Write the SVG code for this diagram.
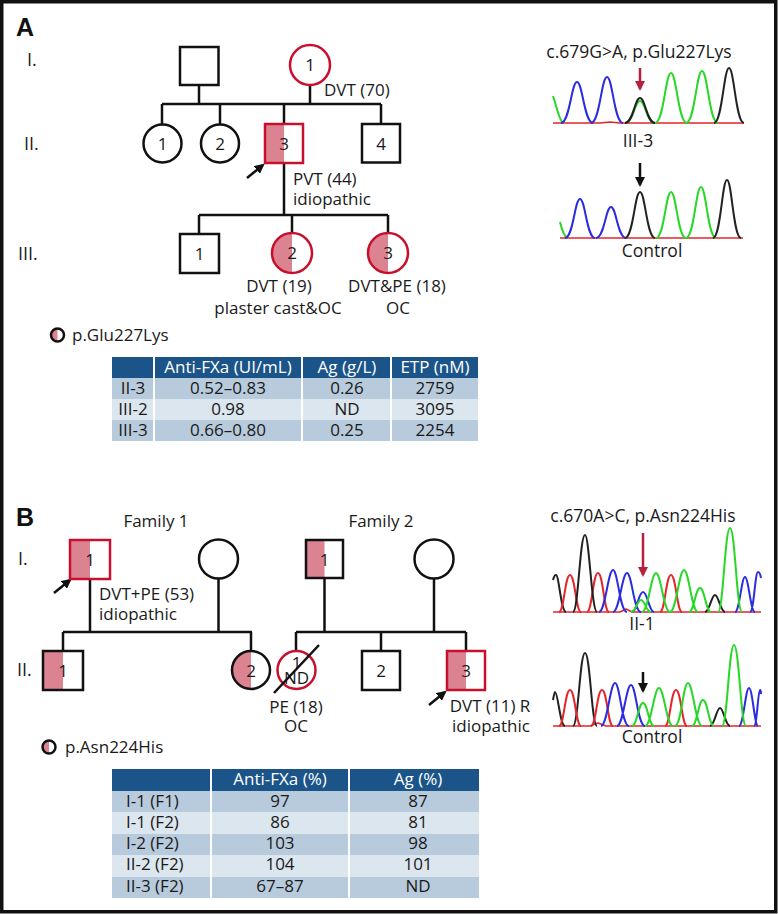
<svg xmlns="http://www.w3.org/2000/svg" width="778" height="914" viewBox="0 0 778 914">
<defs>
<style>
.t{font-family:"Open Sans","Liberation Sans",sans-serif;font-size:17px;fill:#1a1a1a}
.c{text-anchor:middle}
.big{font-size:17.5px}
.b{font-family:"Liberation Sans",Arial,sans-serif;font-weight:bold;font-size:25px;fill:#111}
.rn{font-size:18px}
.w{fill:#fff}
.ln{stroke:#111;stroke-width:2.5;fill:none}
.sym{stroke:#111;stroke-width:2.5;fill:none}
.red{stroke:#c8102e}
.pk{fill:#db8391;stroke:none}
.hdr{fill:#1b5488}
.dk{fill:#b8cbdc}
.lt{fill:#dce6ef}
.sep{stroke:#fff;stroke-width:2}
.tr{fill:none;stroke-width:2;stroke-linejoin:round}
.bl{stroke:#2b2be0}
.gr{stroke:#27d827}
.bk{stroke:#222}
.rd{stroke:#e3262b;stroke-width:1.6}
</style>
<marker id="ah" viewBox="0 0 10 10" refX="8" refY="5" markerWidth="4" markerHeight="4" orient="auto"><path d="M0,0 L10,5 L0,10 z" fill="#111"/></marker>
<marker id="ahr" viewBox="0 0 10 10" refX="8" refY="5" markerWidth="4" markerHeight="4" orient="auto"><path d="M0,0 L10,5 L0,10 z" fill="#b5203c"/></marker>
</defs>
<rect x="1.75" y="1.75" width="774" height="910" fill="#fff" stroke="#111" stroke-width="3.5"/>

<!-- Panel A labels -->
<text class="b" x="16" y="36">A</text>
<text class="t rn" x="27" y="66">I.</text>
<text class="t rn" x="24" y="150">II.</text>
<text class="t rn" x="18" y="260">III.</text>

<g id="connectors">
<path class="ln" d="M199,85 V104 M310,85 V104 M162,104 H381 M162,104 V124 M220,104 V124 M284,104 V124 M381,104 V124 M284,163 V215 M199,215 H388 M199,215 V234 M292,215 V233 M388,215 V233"/>
<line class="ln" x1="247" y1="178" x2="263" y2="165" marker-end="url(#ah)"/>
<path class="ln" d="M90,579 V632 M218.5,578.5 V632 M63,632 H252 M63,632 V651 M251,632 V651 M324.5,578 V632 M434,578.5 V632 M296,632 H466 M296,632 V651 M381,632 V651 M466,632 V651"/>
<line class="ln" x1="54" y1="593" x2="70" y2="580" marker-end="url(#ah)"/>
<line class="ln" x1="429" y1="705" x2="445" y2="692" marker-end="url(#ah)"/>
</g>

<!-- Panel A pedigree -->
<g id="A-I-2"><rect class="sym" x="180" y="47" width="38.5" height="38"/></g>
<g id="A-I-1"><circle class="sym red" cx="310" cy="65" r="20"/><text class="t c" x="310" y="71">1</text>
<text class="t" x="324" y="96">DVT (70)</text></g>
<g id="A-II-1"><circle class="sym" cx="162.5" cy="143.5" r="19"/><text class="t c" x="162.5" y="149.5">1</text></g>
<g id="A-II-2"><circle class="sym" cx="220" cy="143.5" r="19"/><text class="t c" x="220" y="149.5">2</text></g>
<g id="A-II-3"><rect class="pk" x="265" y="124" width="19" height="39"/><rect class="sym red" x="265" y="124" width="38" height="39"/><text class="t c" x="284" y="149.5">3</text>
<text class="t" x="293" y="185">PVT (44)</text><text class="t" x="293" y="205">idiopathic</text></g>
<g id="A-II-4"><rect class="sym" x="362" y="124" width="38" height="38.5"/><text class="t c" x="381" y="149.5">4</text></g>
<g id="A-III-1"><rect class="sym" x="180" y="234" width="39" height="39"/><text class="t c" x="199.5" y="259.5">1</text></g>
<g id="A-III-2"><path class="pk" d="M292,233 A20,20 0 0 0 292,273 Z"/><circle class="sym red" cx="292" cy="253" r="20"/><text class="t c" x="292" y="259">2</text>
<text class="t c" x="279" y="292">DVT (19)</text><text class="t c" x="278" y="314">plaster cast&amp;OC</text></g>
<g id="A-III-3"><path class="pk" d="M388,233 A20,20 0 0 0 388,273 Z"/><circle class="sym red" cx="388" cy="253" r="20"/><text class="t c" x="388" y="259">3</text>
<text class="t c" x="397" y="292">DVT&amp;PE (18)</text><text class="t c" x="398" y="314">OC</text></g>
<g id="A-legend"><path class="pk" d="M57.5,328.5 A6.5,6.5 0 0 0 57.5,341.5 Z"/><circle class="sym" cx="57.5" cy="335" r="6.5" stroke-width="2"/><text class="t" x="72" y="341">p.Glu227Lys</text></g>

<!-- Table A -->
<g id="A-table">
<rect class="hdr" x="112" y="357" width="366" height="21"/>
<rect class="dk" x="112" y="378" width="366" height="21"/>
<rect class="lt" x="112" y="399" width="366" height="21"/>
<rect class="dk" x="112" y="420" width="366" height="21"/>
<path class="sep" d="M154,357 V441 M302,357 V441 M391,357 V441"/>
<text class="t c w" x="228" y="373">Anti-FXa (UI/mL)</text>
<text class="t c w" x="347" y="373">Ag (g/L)</text>
<text class="t c w" x="435" y="373">ETP (nM)</text>
<text class="t c" x="133" y="394">II-3</text><text class="t c" x="228" y="394">0.52–0.83</text><text class="t c" x="347" y="394">0.26</text><text class="t c" x="435" y="394">2759</text>
<text class="t c" x="133" y="415">III-2</text><text class="t c" x="228" y="415">0.98</text><text class="t c" x="347" y="415">ND</text><text class="t c" x="435" y="415">3095</text>
<text class="t c" x="133" y="436">III-3</text><text class="t c" x="228" y="436">0.66–0.80</text><text class="t c" x="347" y="436">0.25</text><text class="t c" x="435" y="436">2254</text>
</g>

<!-- Chromatogram A -->
<g id="A-chrom">
<text class="t c big" x="639" y="58">c.679G&gt;A, p.Glu227Lys</text>
<line x1="640" y1="68" x2="640" y2="89" stroke="#b5203c" stroke-width="2.5" marker-end="url(#ahr)"/>
<path class="tr rd" d="M553,123 L600,123 L610,122 L620,123 L743,123"/>
<path class="tr gr" d="M553,96 C556,104 559,120 563,123"/>
<path class="tr bl" d="M561,123 C569.8,123 571.4,82 577,82 C582.6,82 584.2,123 593,123 M591,123 C599.8,123 601.4,77 607,77 C612.6,77 614.2,123 623,123"/>
<path class="tr gr" d="M625,123 C633.25,123 634.75,101 640,101 C645.25,101 646.75,123 655,123"/>
<path class="tr bk" d="M625,123 C633.25,123 634.75,98 640,98 C645.25,98 646.75,123 655,123"/>
<path class="tr gr" d="M655,123 C663.8,123 665.4,73 671,73 C676.6,73 678.2,123 687,123 M686,123 C694.8,123 696.4,71 702,71 C707.6,71 709.2,123 718,123"/>
<path class="tr bk" d="M714,123 C722.25,123 723.75,68 729,68 C734.25,68 735.75,123 744,123"/>
<text class="t c big" x="638" y="147">III-3</text>
<line x1="640" y1="163" x2="640" y2="185" stroke="#111" stroke-width="2.5" marker-end="url(#ah)"/>
<path class="tr rd" d="M560,238 L743,238"/>
<path class="tr gr" d="M560,222 C562,230 564,236 567,238"/>
<path class="tr bl" d="M565,238 C573.25,238 574.75,199 580,199 C585.25,199 586.75,238 595,238 M596,238 C604.25,238 605.75,207 611,207 C616.25,207 617.75,238 626,238"/>
<path class="tr bk" d="M625,238 C633.25,238 634.75,192 640,192 C645.25,192 646.75,238 655,238"/>
<path class="tr gr" d="M656,238 C664.25,238 665.75,192 671,192 C676.25,192 677.75,238 686,238 M686,238 C694.25,238 695.75,187 701,187 C706.25,187 707.75,238 716,238"/>
<path class="tr bk" d="M713,238 C720.7,238 722.1,180 727,180 C731.9,180 733.3,238 741,238"/>
<text class="t c big" x="652" y="257">Control</text>
</g>

<!-- Panel B labels -->
<text class="b" x="16" y="526">B</text>
<text class="t c" x="156" y="527">Family 1</text>
<text class="t c" x="381" y="527">Family 2</text>
<text class="t rn" x="18" y="565">I.</text>
<text class="t rn" x="17" y="676">II.</text>

<g id="F1-I-1"><rect class="pk" x="70" y="540" width="20" height="39"/><rect class="sym red" x="70" y="540" width="40" height="39"/><text class="t c" x="90" y="566">1</text>
<text class="t" x="99" y="600">DVT+PE (53)</text><text class="t" x="99" y="620">idiopathic</text></g>
<g id="F1-I-2"><circle class="sym" cx="218.5" cy="559" r="19.5"/></g>
<g id="F1-II-1"><rect class="pk" x="43" y="651" width="20" height="39"/><rect class="sym" x="43" y="651" width="40" height="39"/><text class="t c" x="63" y="677">1</text></g>
<g id="F1-II-2"><path class="pk" d="M251,651 A19,19 0 0 0 251,689 Z"/><circle class="sym" cx="251" cy="670" r="19"/><text class="t c" x="251" y="677">2</text></g>
<g id="F2-I-1"><rect class="pk" x="306" y="540" width="18.5" height="38"/><rect class="sym" x="306" y="540" width="37" height="38"/><text class="t c" x="324.5" y="566">1</text></g>
<g id="F2-I-2"><circle class="sym" cx="434" cy="559" r="19.5"/></g>
<g id="F2-II-1"><circle class="sym red" cx="296.5" cy="670" r="19"/><text class="t c" x="296.5" y="669" font-size="14">1</text><text class="t c" x="296.5" y="684" font-size="14">ND</text>
<line class="ln" x1="274" y1="693" x2="319" y2="645" stroke-width="2"/>
<text class="t c" x="296" y="713">PE (18)</text><text class="t c" x="296" y="732">OC</text></g>
<g id="F2-II-2"><rect class="sym" x="362" y="651" width="38" height="39"/><text class="t c" x="381" y="677">2</text></g>
<g id="F2-II-3"><rect class="pk" x="447" y="651" width="19" height="39"/><rect class="sym red" x="447" y="651" width="38" height="39"/><text class="t c" x="466" y="677">3</text>
<text class="t c" x="490" y="712">DVT (11) R</text><text class="t c" x="491" y="732">idiopathic</text></g>
<g id="B-legend"><path class="pk" d="M49,740.5 A6.5,6.5 0 0 0 49,753.5 Z"/><circle class="sym" cx="49" cy="747" r="6.5" stroke-width="2"/><text class="t" x="65" y="753">p.Asn224His</text></g>

<!-- Table B -->
<g id="B-table">
<rect class="hdr" x="112" y="769" width="367" height="22"/>
<rect class="dk" x="112" y="791" width="367" height="21"/>
<rect class="lt" x="112" y="812" width="367" height="22"/>
<rect class="dk" x="112" y="834" width="367" height="21"/>
<rect class="lt" x="112" y="855" width="367" height="22"/>
<rect class="dk" x="112" y="877" width="367" height="21"/>
<path class="sep" d="M211,769 V898 M349,769 V898"/>
<text class="t c w" x="280" y="785">Anti-FXa (%)</text>
<text class="t c w" x="418" y="785">Ag (%)</text>
<text class="t" x="126" y="807">I-1 (F1)</text><text class="t c" x="280" y="807">97</text><text class="t c" x="418" y="807">87</text>
<text class="t" x="126" y="828">I-1 (F2)</text><text class="t c" x="280" y="828">86</text><text class="t c" x="418" y="828">81</text>
<text class="t" x="126" y="849">I-2 (F2)</text><text class="t c" x="280" y="849">103</text><text class="t c" x="418" y="849">98</text>
<text class="t" x="126" y="870">II-2 (F2)</text><text class="t c" x="280" y="870">104</text><text class="t c" x="418" y="870">101</text>
<text class="t" x="126" y="892">II-3 (F2)</text><text class="t c" x="280" y="892">67–87</text><text class="t c" x="418" y="892">ND</text>
</g>

<!-- Chromatogram B -->
<g id="B-chrom">
<text class="t c big" x="643" y="522">c.670A&gt;C, p.Asn224His</text>
<line x1="643" y1="533" x2="643" y2="575" stroke="#b5203c" stroke-width="2.5" marker-end="url(#ahr)"/>
<path class="tr rd" d="M553,612 L620,612 L626,609 L632,612 L761,612"/>
<path class="tr bk" d="M553,580 C554,576 555,575 556,575 C559,575 561,612 566,612"/>
<path class="tr rd" style="stroke-width:2" d="M559,612 C564,612 565,575 570,575 C575,575 576,612 581,612 M587,612 C592,612 593,573 598,573 C603,573 604,612 609,612 M660,612 C665,612 666,575 671,575 C676,575 677,612 682,612"/>
<path class="tr bk" d="M573,612 C578.4,612 579.8,535 585,535 C589.2,535 591.6,612 597,612 M705,612 C709.5,612 711.5,595 715,595 C718.5,595 720.5,612 725,612"/>
<path class="tr bl" d="M599,612 C605.3,612 608.1,570 613,570 C617.9,570 619.7,612 627,612 M613,612 C619.3,612 622.1,573 627,573 C631.9,573 633.7,612 641,612 M632,612 C637,612 638.5,592 643,592 C647.5,592 649,612 654,612 M735,612 C739.5,612 741.5,577 745,577 C748.5,577 750.5,612 755,612 M750,612 C754,612 755,572 758,572 C759.5,572 760.5,575 761,578"/>
<path class="tr gr" d="M631,612 C636,612 637,600 641,600 C645,600 646,612 651,612 M642,612 C648.3,612 651.1,573 656,573 C660.9,573 663.7,612 670,612 M670,612 C676.3,612 679.1,570 684,570 C688.9,570 691.7,612 698,612 M689,612 C694,612 695.5,588 700,588 C704.5,588 706,612 711,612 M718,612 C723.4,612 724.8,528 730,528 C735.2,528 736.6,612 742,612"/>
<text class="t c big" x="642" y="630">II-1</text>
<line x1="643" y1="672" x2="643" y2="691" stroke="#111" stroke-width="2.5" marker-end="url(#ah)"/>
<path class="tr rd" d="M553,726 L590,726 L598,723 L606,726 L761,726"/>
<path class="tr bk" d="M553,700 C554,694 554.5,692 555,692 C558,692 560,726 565,726 M573,726 C578.4,726 579.8,653 585,653 C590.2,653 591.6,726 597,726 M710,726 C714.5,726 716.5,708 720,708 C723.5,708 725.5,726 730,726"/>
<path class="tr rd" style="stroke-width:2" d="M559,726 C564,726 565,690 570,690 C575,690 576,726 581,726 M591,726 C596,726 597,690 602,690 C607,690 608,726 613,726 M665,726 C670,726 671,690 676,690 C681,690 682,726 687,726"/>
<path class="tr bl" d="M601,726 C607.3,726 610.1,683 615,683 C619.9,683 621.7,726 629,726 M617,726 C623.3,726 626.1,685 631,685 C635.9,685 637.7,726 645,726 M739,726 C743.5,726 745.5,688 749,688 C752.5,688 754.5,726 758,726 M754,726 C757,726 758,690 760,690 C760.5,690 761,692 761,694"/>
<path class="tr gr" d="M632,726 C637,726 638.5,703 643,703 C647.5,703 649,726 654,726 M645,726 C651.3,726 654.1,688 659,688 C663.9,688 666.7,726 673,726 M675,726 C681.3,726 683.1,683 688,683 C692.9,683 695.7,726 702,726 M692,726 C697,726 698.5,700 703,700 C707.5,700 709,726 714,726 M722,726 C727.4,726 728.8,645 734,645 C739.2,645 740.6,726 746,726"/>
<text class="t c big" x="652" y="743">Control</text>
</g>
</svg>
